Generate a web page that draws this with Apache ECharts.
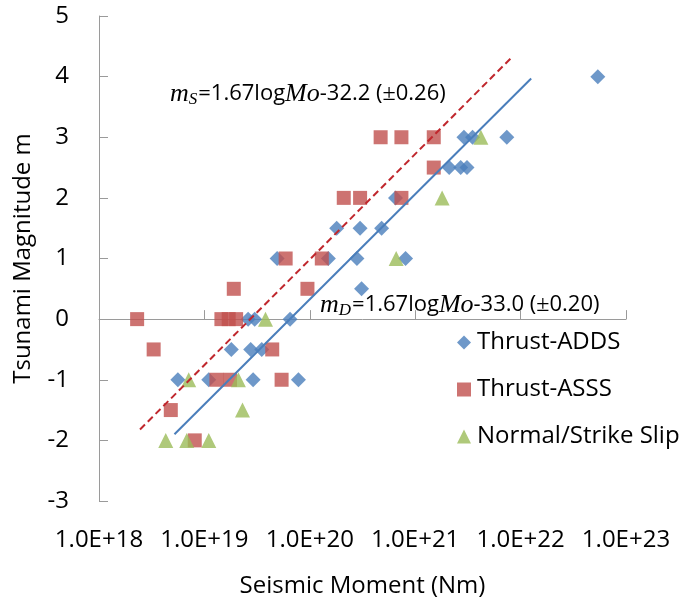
<!DOCTYPE html>
<html>
<head>
<meta charset="utf-8">
<script src="https://cdn.jsdelivr.net/npm/echarts@6/dist/echarts.min.js"></script>
<style>
  html, body { margin: 0; padding: 0; background: #fff; }
  #chart { width: 688px; height: 601px; }
</style>
</head>
<body>
<div id="chart"></div>
<script>
// Seismic moment (Nm) and tsunami magnitude
const addsMoment = [5.4e22, 2.9e21, 3.5e21, 7.4e21, 2.1e21, 2.7e21, 3.1e21, 6.5e20,
  1.8e20, 3.0e20, 4.8e20, 4.9e19, 1.5e20, 2.8e20, 8.1e20, 3.1e20,
  2.6e19, 3.0e19, 6.5e19, 1.8e19, 2.75e19, 3.5e19, 5.6e18, 1.1e19, 2.9e19, 7.8e19]
const addsMagnitude = [4, 3, 3, 3, 2.5, 2.5, 2.5, 2,
  1.5, 1.5, 1.5, 1, 1, 1, 1, 0.5,
  0, 0, 0, -0.5, -0.5, -0.5, -1, -1, -1, -1]

const asssMoment = [4.7e20, 7.4e20, 1.5e21, 1.5e21, 2.1e20, 3.0e20, 7.4e20,
  5.9e19, 1.3e20, 1.9e19, 9.5e19, 2.3e18, 1.45e19, 1.7e19, 2.0e19,
  3.3e18, 4.4e19, 1.3e19, 1.75e19, 5.4e19, 4.8e18, 8.1e18]
const asssMagnitude = [3, 3, 3, 2.5, 2, 2, 2,
  1, 1, 0.5, 0.5, 0, 0, 0, 0,
  -0.5, -0.5, -1, -1, -1, -1.5, -2]

const normalMoment = [4.2e21, 1.8e21, 6.6e20, 3.8e19, 7.1e18, 2.1e19, 2.3e19, 4.3e18, 6.8e18, 1.1e19]
const normalMagnitude = [3, 2, 1, 0, -1, -1, -1.5, -2, -2, -2]

// regression lines (end points)
const lineDMoment = [5.2e18, 1.26e22]
const lineDMagnitude = [-1.9, 3.97]
const lineSMoment = [2.45e18, 8.05e21]
const lineSMagnitude = [-1.82, 4.3]

const seriesNames = ['Thrust-ADDS', 'Thrust-ASSS', 'Normal/Strike Slip']
const seriesColors = ['#4a7ebb', '#c0504d', '#9bbb59']

const FONT = "'Open Sans', sans-serif"
const SERIF = "'Liberation Serif', serif"
const zip = (xs, ys) => xs.map((x, i) => [x, ys[i]])

const chart = echarts.init(document.getElementById('chart'))

const mathRich = {
  mi: { fontFamily: SERIF, fontStyle: 'italic', fontSize: 26, color: '#262626' },
  sub: { fontFamily: SERIF, fontStyle: 'italic', fontSize: 17, color: '#262626', verticalAlign: 'bottom', padding: [12, 1, 0, 0] },
  t: { fontFamily: FONT, fontSize: 22, color: '#262626' },
  pm: { fontFamily: SERIF, fontSize: 24, color: '#262626' }
}

chart.setOption({
  animation: false,
  backgroundColor: '#fff',
  textStyle: { fontFamily: FONT },
  grid: { left: 99, right: 62, top: 16, bottom: 100, containLabel: false, outerBoundsMode: 'none' },
  legend: {
    data: seriesNames,
    orient: 'vertical',
    left: 452,
    top: 325,
    itemWidth: 14,
    itemHeight: 14,
    itemGap: 22,
    textStyle: { fontSize: 24, color: '#000', fontFamily: FONT, padding: [0, 0, 0, 1], lineHeight: 25 }
  },
  xAxis: {
    type: 'log',
    logBase: 10,
    min: 1e18,
    max: 1e23,
    splitNumber: 5,
    name: 'Seismic Moment (Nm)',
    nameLocation: 'middle',
    nameGap: 73,
    nameTextStyle: { fontSize: 24, color: '#000' },
    axisLine: { lineStyle: { color: '#9a9a9a', width: 1 } },
    axisTick: { inside: true, length: 9, lineStyle: { color: '#9a9a9a' } },
    minorTick: { show: false },
    splitLine: { show: false },
    axisLabel: {
      fontSize: 24,
      color: '#000',
      margin: 27,
      showMinLabel: true,
      showMaxLabel: true,
      formatter: v => '1.0E+' + Math.round(Math.log10(v))
    }
  },
  yAxis: {
    type: 'value',
    min: -3,
    max: 5,
    interval: 1,
    name: 'Tsunami Magnitude m',
    nameLocation: 'middle',
    nameGap: 64,
    nameTextStyle: { fontSize: 24, color: '#000' },
    axisLine: { show: true, lineStyle: { color: '#9a9a9a', width: 1 } },
    axisTick: { show: true, inside: true, length: 9, lineStyle: { color: '#9a9a9a' } },
    splitLine: { show: false },
    axisLabel: { fontSize: 24, color: '#000', margin: 30 }
  },
  graphic: [
    {
      type: 'text',
      left: 170,
      top: 81,
      style: {
        text: '{mi|m}{sub|S}{t|=1.67log}{mi|Mo}{t|-32.2 (}{pm|±}{t|0.26)}',
        rich: mathRich
      }
    },
    {
      type: 'text',
      left: 320,
      top: 292,
      style: {
        text: '{mi|m}{sub|D}{t|=1.67log}{mi|Mo}{t|-33.0 (}{pm|±}{t|0.20)}',
        rich: mathRich
      }
    }
  ],
  series: [
    {
      name: seriesNames[0],
      type: 'scatter',
      symbol: 'diamond',
      symbolSize: 15,
      itemStyle: { color: seriesColors[0] },
      data: zip(addsMoment, addsMagnitude),
      z: 2
    },
    {
      name: seriesNames[1],
      type: 'scatter',
      symbol: 'rect',
      symbolSize: 14,
      itemStyle: { color: seriesColors[1] },
      data: zip(asssMoment, asssMagnitude),
      z: 3
    },
    {
      name: seriesNames[2],
      type: 'scatter',
      symbol: 'triangle',
      symbolSize: 15,
      itemStyle: { color: seriesColors[2] },
      data: zip(normalMoment, normalMagnitude),
      z: 4
    },
    {
      name: 'mD',
      type: 'line',
      showSymbol: false,
      silent: true,
      lineStyle: { color: '#4a7ebb', width: 2 },
      data: zip(lineDMoment, lineDMagnitude),
      z: 5
    },
    {
      name: 'mS',
      type: 'line',
      showSymbol: false,
      silent: true,
      lineStyle: { color: '#c0272d', width: 2, type: [7, 4] },
      data: zip(lineSMoment, lineSMagnitude),
      z: 5
    }
  ]
})

window.addEventListener('resize', () => chart.resize())
</script>
</body>
</html>
